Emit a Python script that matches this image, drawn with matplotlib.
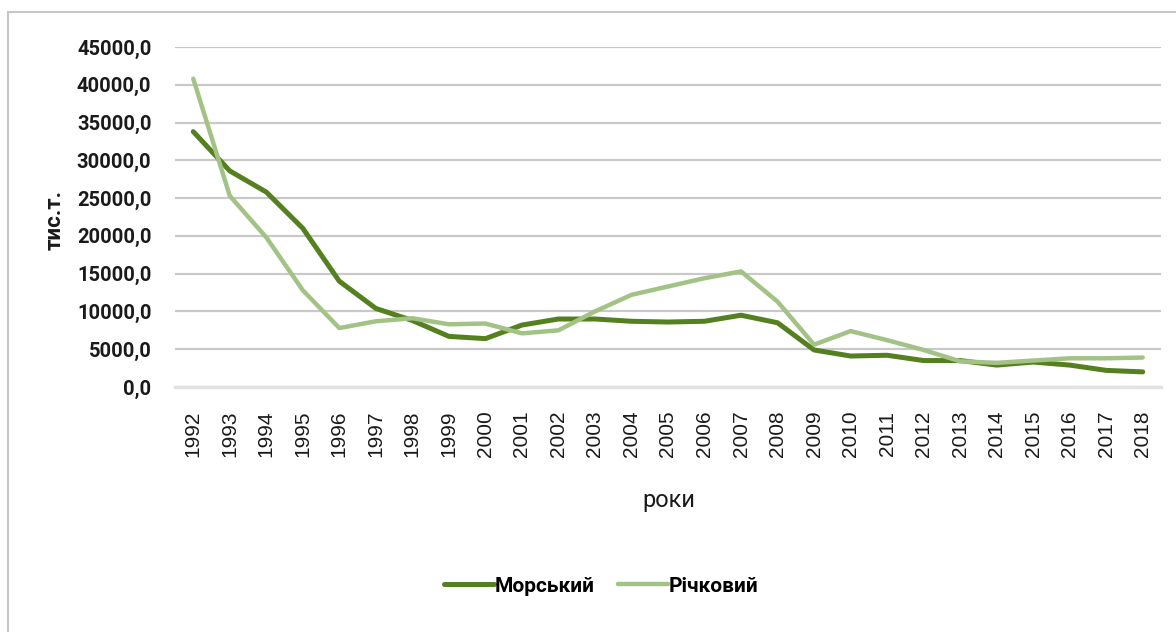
import matplotlib
matplotlib.use("Agg")
import matplotlib.pyplot as plt
from matplotlib.patches import Rectangle
from matplotlib.ticker import FuncFormatter

years = [str(y) for y in range(1992, 2019)]
morskyi = [33800, 28600, 25800, 21000, 14000, 10400, 8800, 6700, 6400, 8200,
           9000, 9000, 8700, 8600, 8700, 9500, 8500, 4900, 4100, 4200,
           3500, 3500, 2900, 3300, 2900, 2200, 2000]
richkovyi = [40800, 25300, 19800, 12800, 7800, 8700, 9100, 8300, 8400, 7100,
             7500, 10000, 12200, 13300, 14400, 15300, 11300, 5600, 7400, 6200,
             4900, 3400, 3200, 3500, 3800, 3800, 3900]
y_ticks = list(range(0, 45001, 5000))

dark = "#55801f"
light = "#a3c285"
main_font = ["Roboto", "DejaVu Sans"]

fig = plt.figure(figsize=(11.76, 6.32), dpi=100)
ax = fig.add_axes([175 / 1176, 1 - 387 / 632, 986 / 1176, 340 / 632])

x = list(range(len(years)))
ax.plot(x, morskyi, color=dark, lw=3.6, label="Морський", solid_capstyle="round", zorder=3)
ax.plot(x, richkovyi, color=light, lw=3.2, label="Річковий", solid_capstyle="round", zorder=3)

ax.set_xlim(-0.5, len(years) - 0.5)
ax.set_ylim(0, 45000)
ax.set_yticks(y_ticks)
ax.yaxis.set_major_formatter(FuncFormatter(lambda v, p: f"{v:.1f}".replace(".", ",")))
ax.set_xticks(x)
ax.set_xticklabels(years, rotation=90, fontsize=15, family=["Liberation Sans", "DejaVu Sans"])
for lab in ax.get_yticklabels():
    lab.set_fontfamily(main_font)
    lab.set_fontweight("bold")
    lab.set_fontsize(14.5)

ax.tick_params(axis="both", length=0, colors="#1a1a1a")
ax.tick_params(axis="y", pad=17)
ax.tick_params(axis="x", pad=17)

ax.grid(axis="y", color="#c9c9c9", lw=1.6)
ax.set_axisbelow(True)
for s in ["top", "right", "left"]:
    ax.spines[s].set_visible(False)
ax.spines["bottom"].set_color("#e2e2e2")
ax.spines["bottom"].set_linewidth(2.5)

ax.set_ylabel("тис.т.", family=main_font, fontweight="bold", fontsize=16, color="#1a1a1a")
ax.yaxis.set_label_coords(-109 / 986, 1 - (220 - 47) / 340)
ax.set_xlabel("роки", family=main_font, fontsize=17, color="#1a1a1a")
ax.xaxis.set_label_coords((669 - 175) / 986, -(489 - 387) / 340)

leg = fig.legend(loc="center", bbox_to_anchor=(601 / 1176, 1 - 586 / 632), ncol=2,
                 frameon=False, handlelength=2.4, handletextpad=0.05, columnspacing=1.1,
                 prop={"family": main_font, "weight": "bold", "size": 15})

fig.add_artist(Rectangle((8 / 1176, -0.05), 1.1, 1 - 12 / 632 + 0.05,
                         transform=fig.transFigure, fill=False, edgecolor="#c6c6c6", lw=1.5))

fig.savefig("out.png", dpi=100)
